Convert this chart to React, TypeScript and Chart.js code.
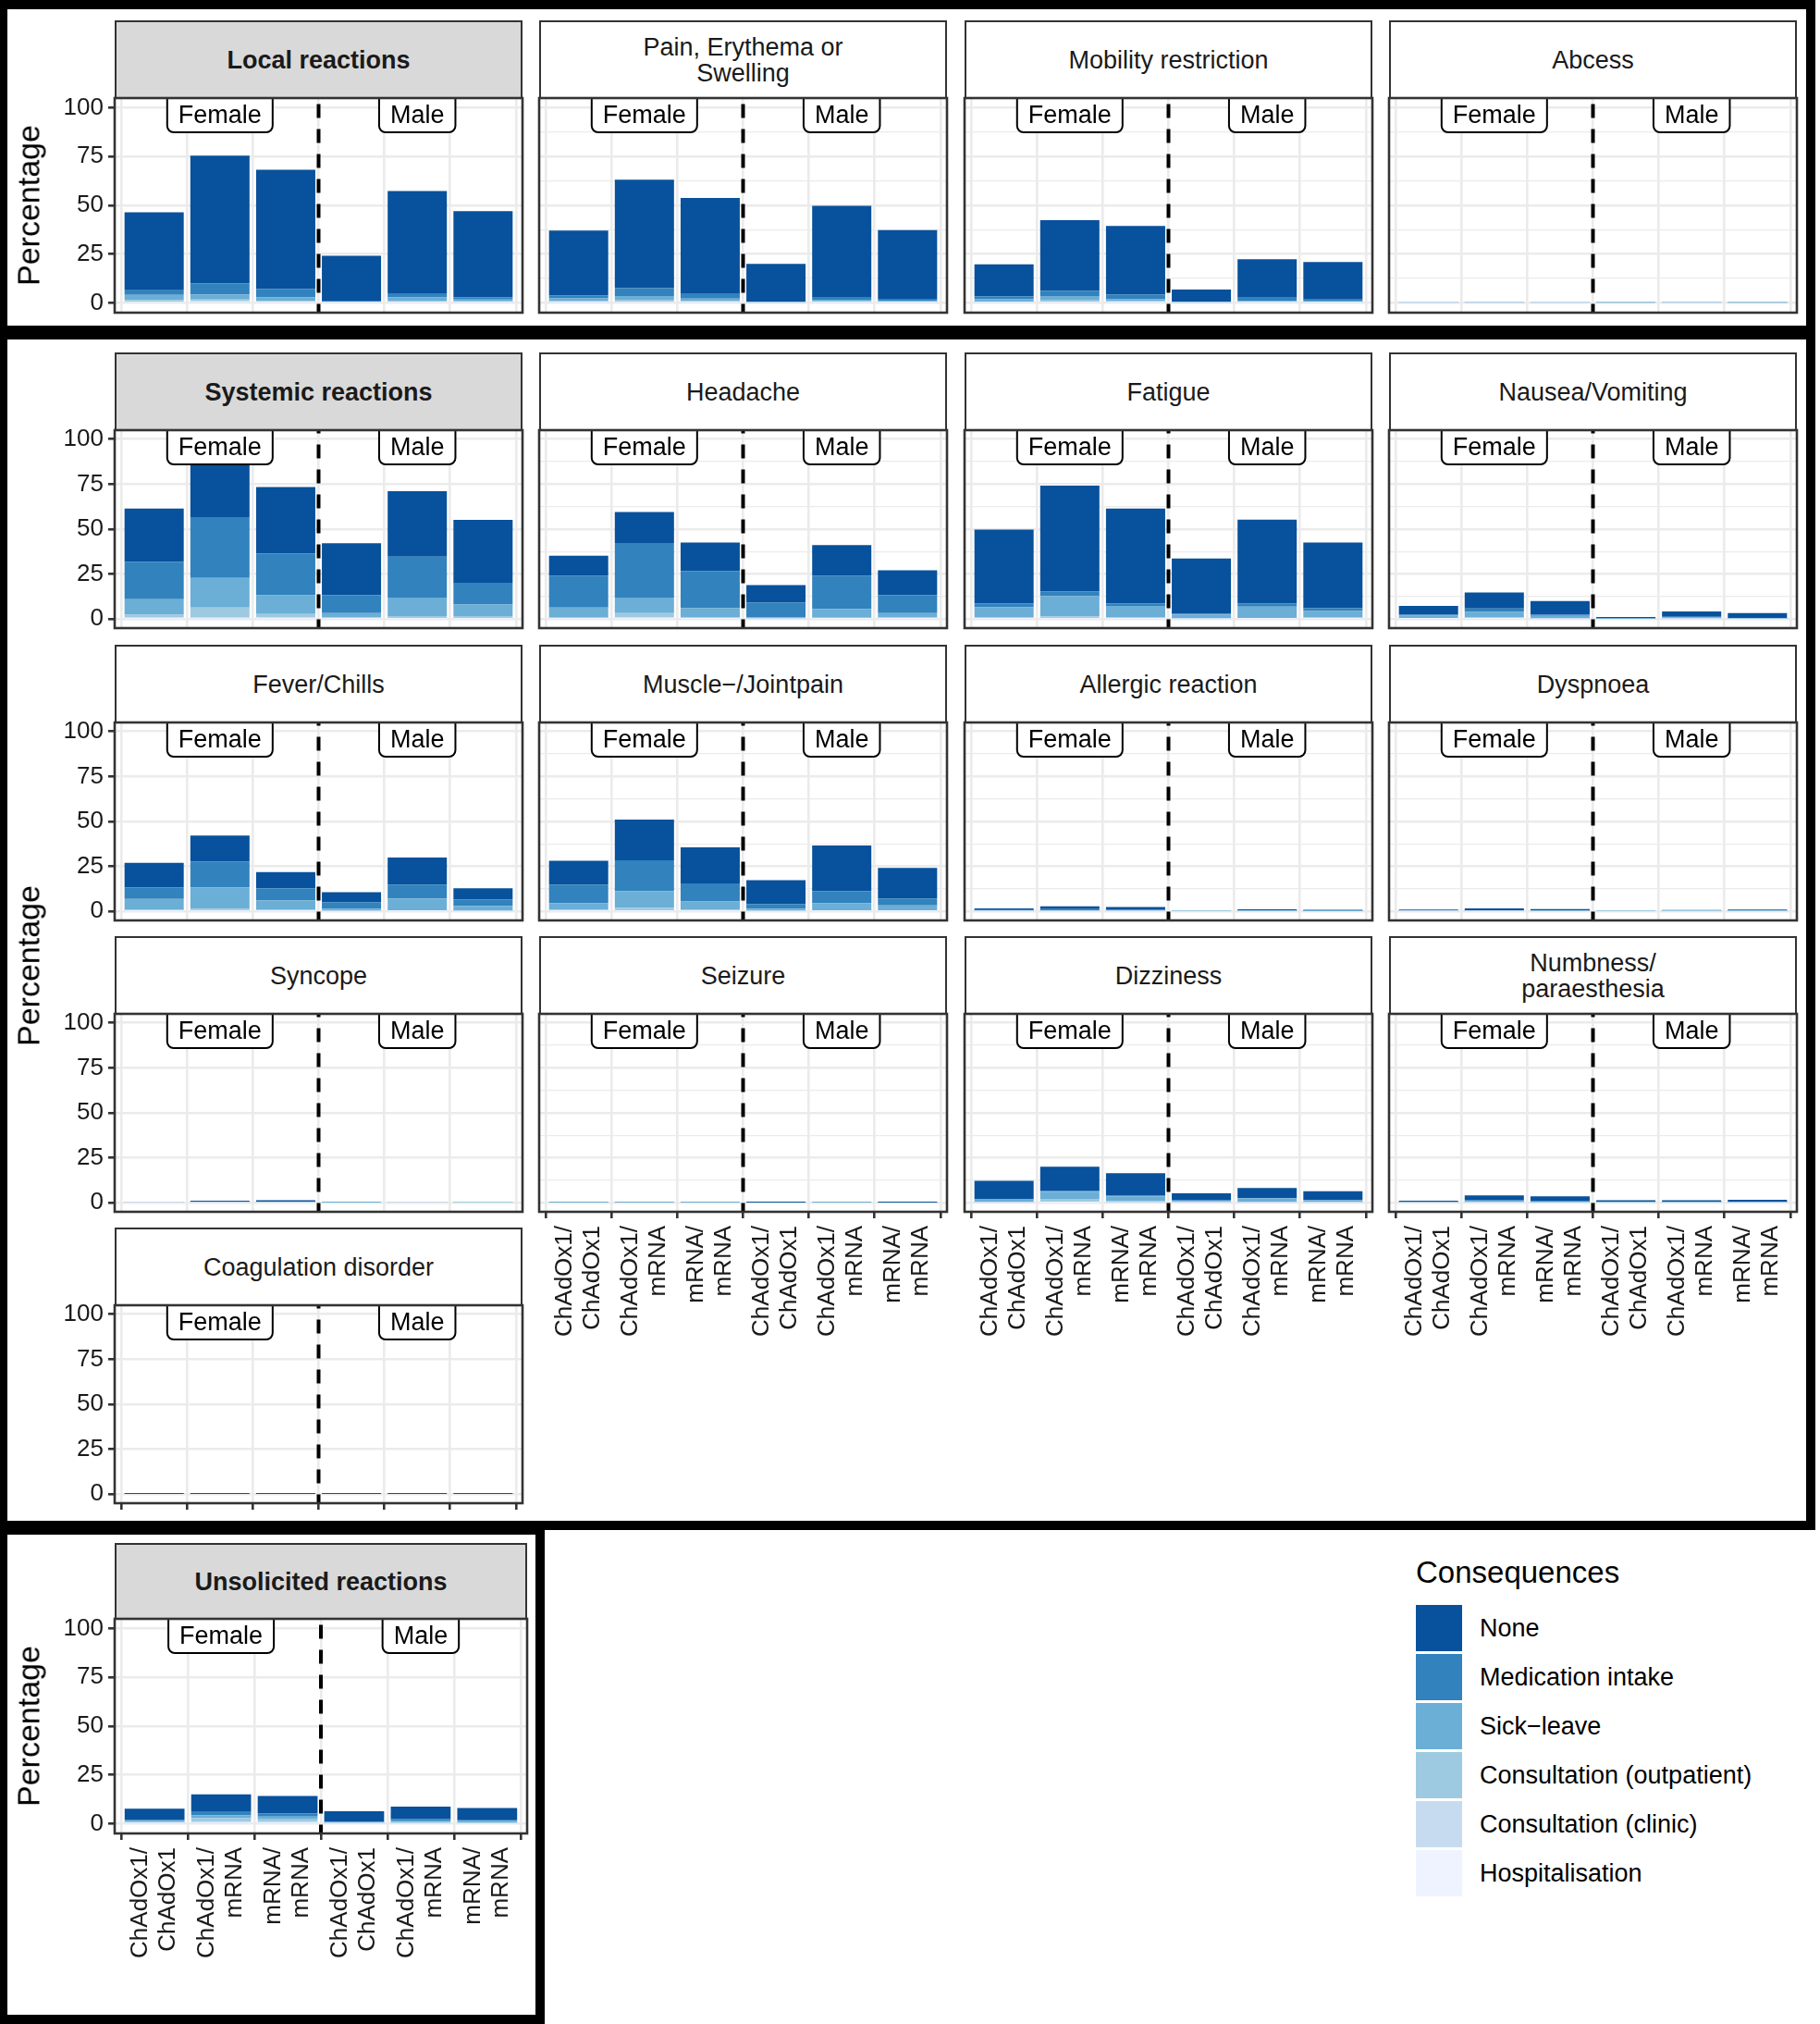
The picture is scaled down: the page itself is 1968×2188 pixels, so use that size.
import React, { useEffect, useRef } from "react";
import { Chart, registerables } from "chart.js";

Chart.register(...registerables);

const FONT = '"Liberation Sans", Arial, Helvetica, sans-serif';

// ---------------- DATA ----------------
const consequenceNames = [
  "Hospitalisation",
  "Consultation (clinic)",
  "Consultation (outpatient)",
  "Sick\u2212leave",
  "Medication intake",
  "None",
];
const consequenceColors = ["#EFF3FF", "#C6DBEF", "#9ECAE1", "#6BAED6", "#3182BD", "#08519C"];

const panelTitles = [
  "Local reactions",
  "Pain, Erythema or\nSwelling",
  "Mobility restriction",
  "Abcess",
  "Systemic reactions",
  "Headache",
  "Fatigue",
  "Nausea/Vomiting",
  "Fever/Chills",
  "Muscle\u2212/Jointpain",
  "Allergic reaction",
  "Dyspnoea",
  "Syncope",
  "Seizure",
  "Dizziness",
  "Numbness/\nparaesthesia",
  "Coagulation disorder",
  "Unsolicited reactions",
];

const groupLabels = ["Female", "Male"];
const groupLabelPositions = [1, 4];
const separatorPosition = 2.5;
const labelValue = 105;

const xPositions = [0, 1, 2, 3, 4, 5];
const xTickLabels = [
  ["ChAdOx1/", "ChAdOx1"],
  ["ChAdOx1/", "mRNA"],
  ["mRNA/", "mRNA"],
  ["ChAdOx1/", "ChAdOx1"],
  ["ChAdOx1/", "mRNA"],
  ["mRNA/", "mRNA"],
];
const yTickValues = [0, 25, 50, 75, 100];
const yMinorBreaks = [12.5, 37.5, 62.5, 87.5];

// one row per panel (same order as panelTitles), six bars per row
const hospValues = [
  [0.2, 0.3, 0.2, 0.1, 0.2, 0.1],
  [0.1, 0.2, 0.1, 0, 0.1, 0.1],
  [0.1, 0.2, 0.1, 0, 0.1, 0.1],
  [0, 0, 0, 0, 0, 0],
  [0.2, 0.3, 0.2, 0.1, 0.1, 0.1],
  [0.1, 0.2, 0.1, 0, 0.1, 0.1],
  [0.1, 0.2, 0.1, 0, 0.1, 0.1],
  [0.1, 0.1, 0, 0, 0, 0],
  [0.1, 0.1, 0.1, 0, 0.1, 0],
  [0.1, 0.1, 0.1, 0, 0.1, 0.1],
  [0, 0, 0, 0, 0, 0],
  [0, 0, 0, 0, 0, 0],
  [0, 0, 0, 0, 0, 0],
  [0, 0, 0, 0, 0, 0],
  [0, 0.1, 0, 0, 0, 0],
  [0, 0, 0, 0, 0, 0],
  [0, 0, 0, 0, 0, 0],
  [0.1, 0.2, 0.2, 0, 0, 0],
];

const clinicValues = [
  [0.5, 0.6, 0.4, 0.1, 0.4, 0.3],
  [0.3, 0.5, 0.4, 0.1, 0.3, 0.2],
  [0.2, 0.4, 0.3, 0.1, 0.2, 0.1],
  [0.1, 0.1, 0.1, 0, 0.1, 0],
  [0.7, 0.9, 0.7, 0.3, 0.5, 0.4],
  [0.4, 0.8, 0.3, 0.2, 0.3, 0.3],
  [0.3, 0.5, 0.3, 0.1, 0.2, 0.3],
  [0.2, 0.3, 0.2, 0, 0.1, 0],
  [0.3, 0.4, 0.2, 0.2, 0.2, 0.2],
  [0.3, 0.6, 0.3, 0.2, 0.2, 0.2],
  [0.1, 0.1, 0.1, 0, 0, 0],
  [0.1, 0.1, 0, 0, 0, 0],
  [0.1, 0.1, 0.1, 0, 0.1, 0],
  [0, 0, 0, 0, 0, 0],
  [0.2, 0.5, 0.3, 0.1, 0.2, 0.1],
  [0, 0.1, 0, 0, 0, 0],
  [0, 0, 0, 0, 0, 0],
  [0.3, 0.8, 0.7, 0.2, 0.3, 0.3],
];

const outpatientValues = [
  [0.8, 0.8, 0.4, 0.2, 0.6, 0.4],
  [0.5, 0.9, 0.6, 0.1, 0.4, 0.3],
  [0.3, 0.7, 0.5, 0.1, 0.3, 0.2],
  [0.1, 0.1, 0.1, 0.1, 0.1, 0.1],
  [1.5, 5.2, 2.0, 0.5, 1.1, 1.2],
  [0.7, 2.3, 0.6, 0.3, 0.4, 0.6],
  [0.6, 0.8, 0.5, 0.3, 0.4, 0.5],
  [0.3, 0.7, 0.4, 0, 0.2, 0.1],
  [0.5, 1.0, 0.6, 0.3, 0.4, 0.4],
  [0.6, 1.4, 0.5, 0.3, 0.4, 0.4],
  [0.1, 0.2, 0.1, 0.1, 0.1, 0],
  [0.1, 0.1, 0.1, 0.1, 0.1, 0.1],
  [0.1, 0.2, 0.2, 0, 0.1, 0.1],
  [0, 0, 0, 0, 0, 0],
  [0.4, 1.6, 0.8, 0.3, 0.5, 0.3],
  [0.1, 0.3, 0.2, 0.1, 0.1, 0.1],
  [0, 0, 0, 0, 0, 0],
  [0.4, 1.8, 1.3, 0.3, 0.5, 0.4],
];

const sickLeaveValues = [
  [2.6, 2.7, 1.8, 0.2, 1.6, 0.9],
  [1.4, 1.9, 1.1, 0.1, 0.8, 0.5],
  [1.3, 2.2, 1.0, 0.2, 0.5, 0.4],
  [0.1, 0.1, 0.1, 0.1, 0.1, 0.1],
  [8.6, 16.5, 10.3, 2.4, 10.3, 6.4],
  [5.2, 8.6, 5.2, 0.5, 4.9, 2.4],
  [5.7, 11.4, 6.5, 2.0, 6.2, 3.6],
  [1.4, 2.9, 1.2, 0.1, 0.6, 0.2],
  [6.0, 11.9, 5.3, 1.0, 6.5, 2.5],
  [3.6, 9.2, 4.6, 1.0, 3.9, 2.6],
  [0.2, 0.4, 0.2, 0.1, 0.1, 0.1],
  [0.3, 0.2, 0.2, 0.1, 0.1, 0.1],
  [0.1, 0.2, 0.2, 0.1, 0.1, 0.1],
  [0.1, 0.1, 0.1, 0, 0.1, 0],
  [1.2, 4.0, 2.5, 0.7, 1.7, 1.0],
  [0.2, 0.8, 0.5, 0.2, 0.1, 0.2],
  [0, 0, 0, 0, 0, 0],
  [0.6, 1.6, 1.5, 0.3, 0.8, 0.7],
];

const medicationValues = [
  [2.4, 5.6, 4.3, 0.2, 2.1, 1.3],
  [1.5, 4.1, 2.7, 0.1, 1.1, 1.0],
  [1.4, 2.7, 2.5, 0.2, 1.6, 0.9],
  [0.1, 0.1, 0.1, 0.1, 0.1, 0.1],
  [20.8, 33.8, 23.2, 9.9, 22.7, 11.7],
  [17.7, 30.4, 20.4, 8.1, 18.4, 10.0],
  [1.9, 2.4, 1.4, 0.7, 1.7, 1.5],
  [0.4, 1.9, 0.6, 0.1, 0.4, 0.2],
  [6.3, 14.4, 6.7, 3.7, 7.7, 3.6],
  [10.3, 17.1, 10.0, 2.6, 6.7, 3.9],
  [0.4, 0.6, 0.5, 0.1, 0.2, 0.2],
  [0.2, 0.3, 0.2, 0, 0.1, 0.1],
  [0.1, 0.2, 0.2, 0, 0.1, 0],
  [0, 0, 0, 0, 0, 0],
  [0.3, 0.5, 0.5, 0.3, 0.3, 0.3],
  [0.1, 0.3, 0.3, 0.1, 0.1, 0.1],
  [0, 0, 0, 0, 0, 0],
  [0.6, 2.0, 1.5, 0.3, 0.8, 0.7],
];

const noneValues = [
  [39.9, 65.5, 61.1, 23.4, 52.5, 44.0],
  [33.3, 55.6, 48.9, 19.6, 47.1, 35.2],
  [16.5, 36.2, 35.0, 6.2, 19.7, 19.3],
  [0.1, 0.2, 0.1, 0.1, 0.3, 0.1],
  [29.7, 30.8, 37.0, 28.9, 36.4, 35.4],
  [11.1, 17.2, 16.0, 9.8, 17.0, 13.7],
  [41.1, 58.9, 52.7, 30.6, 46.7, 36.6],
  [5.0, 8.9, 7.6, 1.0, 3.0, 2.9],
  [13.8, 14.3, 8.9, 5.5, 15.0, 6.2],
  [13.3, 22.6, 20.1, 13.3, 25.3, 17.0],
  [0.9, 1.6, 1.5, 0.2, 0.8, 0.6],
  [0.3, 1.0, 0.8, 0.1, 0.5, 0.7],
  [0.2, 0.5, 0.7, 0.1, 0.3, 0.1],
  [0.1, 0.1, 0.1, 0.1, 0.1, 0.1],
  [10.1, 13.4, 12.4, 3.9, 5.5, 4.8],
  [0.8, 2.6, 2.6, 1.0, 1.1, 1.3],
  [0.1, 0.1, 0.1, 0.1, 0.1, 0.1],
  [5.7, 8.6, 9.0, 5.3, 6.4, 5.9],
];

const seriesValues = [hospValues, clinicValues, outpatientValues, sickLeaveValues, medicationValues, noneValues];

// ---------------- LAYOUT ----------------
const GRID = "#EBEBEB";
const AXIS = "#333333";
const TEXT = "#1A1A1A";
const COL_X = [124, 583, 1043, 1502];
const PANEL_W = 441;
const ROW_TOPS = [381, 697, 1012, 1327];

type XMode = "none" | "ticks" | "labels";
interface PanelSpec {
  idx: number;
  left: number;
  stripTop: number;
  stripH: number;
  panelH: number;
  width: number;
  showY: boolean;
  xMode: XMode;
  gray: boolean;
}

const specs: PanelSpec[] = [];
for (let c = 0; c < 4; c++) {
  specs.push({ idx: c, left: COL_X[c], stripTop: 22, stripH: 84, panelH: 232, width: PANEL_W, showY: c === 0, xMode: "none", gray: c === 0 });
}
for (let r = 0; r < 3; r++) {
  for (let c = 0; c < 4; c++) {
    const idx = 4 + r * 4 + c;
    specs.push({
      idx,
      left: COL_X[c],
      stripTop: ROW_TOPS[r],
      stripH: 84,
      panelH: 214,
      width: PANEL_W,
      showY: c === 0,
      xMode: r === 2 && c > 0 ? "labels" : "none",
      gray: idx === 4,
    });
  }
}
specs.push({ idx: 16, left: COL_X[0], stripTop: ROW_TOPS[3], stripH: 84, panelH: 214, width: PANEL_W, showY: true, xMode: "ticks", gray: false });
specs.push({ idx: 17, left: 124, stripTop: 1668, stripH: 82, panelH: 232, width: 446, showY: true, xMode: "labels", gray: true });

function roundedRect(ctx: CanvasRenderingContext2D, x: number, y: number, w: number, h: number, r: number) {
  ctx.beginPath();
  ctx.moveTo(x + r, y);
  ctx.lineTo(x + w - r, y);
  ctx.arcTo(x + w, y, x + w, y + r, r);
  ctx.lineTo(x + w, y + h - r);
  ctx.arcTo(x + w, y + h, x + w - r, y + h, r);
  ctx.lineTo(x + r, y + h);
  ctx.arcTo(x, y + h, x, y + h - r, r);
  ctx.lineTo(x, y + r);
  ctx.arcTo(x, y, x + r, y, r);
  ctx.closePath();
}

const decorPlugin = {
  id: "panelDecor",
  afterDatasetsDraw(chart: any) {
    const { ctx, chartArea: a, scales } = chart;
    const xs = scales.x;
    const ys = scales.y;
    ctx.save();
    ctx.beginPath();
    ctx.rect(a.left, a.top, a.right - a.left, a.bottom - a.top);
    ctx.clip();
    const dx = xs.getPixelForValue(separatorPosition);
    ctx.strokeStyle = "#000";
    ctx.lineWidth = 4;
    ctx.setLineDash([15, 12]);
    ctx.lineDashOffset = 5.6;
    ctx.beginPath();
    ctx.moveTo(dx, a.bottom);
    ctx.lineTo(dx, a.top);
    ctx.stroke();
    ctx.setLineDash([]);
    ctx.font = `27px ${FONT}`;
    ctx.textAlign = "center";
    ctx.textBaseline = "middle";
    const top = ys.getPixelForValue(labelValue);
    groupLabels.forEach((t, i) => {
      const cx = xs.getPixelForValue(groupLabelPositions[i]);
      const w = ctx.measureText(t).width + 24;
      const h = 37;
      roundedRect(ctx, cx - w / 2, top - 12, w, h + 12, 7);
      ctx.fillStyle = "#fff";
      ctx.fill();
      ctx.lineWidth = 2;
      ctx.strokeStyle = "#000";
      ctx.stroke();
      ctx.fillStyle = "#000";
      ctx.fillText(t, cx, top + h / 2 + 1);
    });
    ctx.restore();
  },
  afterDraw(chart: any) {
    const { ctx, chartArea: a } = chart;
    ctx.save();
    ctx.strokeStyle = AXIS;
    ctx.lineWidth = 2.6;
    ctx.strokeRect(a.left, a.top, a.right - a.left, a.bottom - a.top);
    ctx.restore();
  },
};

function PanelChart({ spec }: { spec: PanelSpec }) {
  const ref = useRef<HTMLCanvasElement | null>(null);
  const M = 4;
  const yW = spec.showY ? 74 : 0;
  const xH = spec.xMode === "labels" ? 160 : spec.xMode === "ticks" ? 8 : 0;
  const panelTop = spec.stripTop + spec.stripH;
  const cw = M + yW + spec.width + M;
  const ch = M + spec.panelH + xH + M;
  const cl = spec.left - yW - M;
  const ct = panelTop - M;

  useEffect(() => {
    const p = spec.idx;
    const isMajor = (v: number) => yTickValues.includes(v);
    const chart = new Chart(ref.current as HTMLCanvasElement, {
      type: "bar",
      data: {
        datasets: seriesValues.map((vals, si) => ({
          label: consequenceNames[si],
          data: vals[p].map((v, i) => ({ x: xPositions[i], y: v })),
          backgroundColor: consequenceColors[si],
          borderWidth: 0,
          barPercentage: 0.9,
          categoryPercentage: 1,
        })),
      },
      options: {
        animation: false,
        responsive: false,
        maintainAspectRatio: false,
        devicePixelRatio: 1,
        events: [],
        layout: { padding: M, autoPadding: false },
        plugins: { legend: { display: false }, tooltip: { enabled: false } },
        scales: {
          x: {
            type: "linear",
            min: -0.6,
            max: 5.6,
            stacked: true,
            offset: false,
            afterBuildTicks: (s: any) => {
              s.ticks = xPositions.map((v) => ({ value: v }));
            },
            afterFit: (s: any) => {
              s.height = xH;
              s.paddingLeft = 0;
              s.paddingRight = 0;
              s.paddingTop = 0;
              s.paddingBottom = 0;
            },
            grid: {
              color: GRID,
              lineWidth: 2.6,
              drawTicks: spec.xMode !== "none",
              tickLength: 7,
              tickColor: AXIS,
              tickWidth: 2.6,
            },
            border: { display: false },
            ticks: {
              display: spec.xMode === "labels",
              autoSkip: false,
              maxRotation: 90,
              minRotation: 90,
              padding: 8,
              labelOffset: -15,
              color: TEXT,
              font: { family: FONT, size: 26, lineHeight: 1.15 },
              callback: (_v: any, i: number) => xTickLabels[i],
            },
          },
          y: {
            type: "linear",
            min: -5,
            max: 105,
            stacked: true,
            afterBuildTicks: (s: any) => {
              s.ticks = [...yTickValues, ...yMinorBreaks].sort((a, b) => a - b).map((v) => ({ value: v }));
            },
            afterFit: (s: any) => {
              s.width = yW;
              s.paddingTop = 0;
              s.paddingBottom = 0;
              s.paddingLeft = 0;
              s.paddingRight = 0;
            },
            grid: {
              color: GRID,
              lineWidth: (c: any) => (c.tick && !isMajor(c.tick.value) ? 1.3 : 2.6),
              drawTicks: spec.showY,
              tickLength: 7,
              tickColor: (c: any) => (c.tick && isMajor(c.tick.value) ? AXIS : "rgba(0,0,0,0)"),
              tickWidth: 2.6,
            },
            border: { display: false },
            ticks: {
              display: spec.showY,
              padding: 5,
              color: TEXT,
              font: { family: FONT, size: 26 },
              callback: (v: any) => (isMajor(v) ? String(v) : ""),
            },
          },
        },
      },
      plugins: [decorPlugin],
    } as any);
    return () => chart.destroy();
  }, []);

  return (
    <canvas
      ref={ref}
      width={cw}
      height={ch}
      style={{ position: "absolute", left: cl, top: ct, width: cw, height: ch }}
    />
  );
}

function Strip({ spec }: { spec: PanelSpec }) {
  return (
    <div
      style={{
        position: "absolute",
        left: spec.left,
        top: spec.stripTop,
        width: spec.width,
        height: spec.stripH + 1,
        boxSizing: "border-box",
        border: `2.5px solid ${AXIS}`,
        background: spec.gray ? "#D9D9D9" : "#FFFFFF",
        display: "flex",
        alignItems: "center",
        justifyContent: "center",
        textAlign: "center",
        fontSize: 27,
        lineHeight: "28px",
        fontWeight: spec.gray ? "bold" : "normal",
        color: TEXT,
        whiteSpace: "pre-line",
      }}
    >
      {panelTitles[spec.idx]}
    </div>
  );
}

const boxes = [
  { left: -2, top: 0, width: 1965, height: 362 },
  { left: -2, top: 357, width: 1965, height: 1297 },
  { left: -2, top: 1649, width: 591, height: 539 },
];

const yTitles = [
  { x: 31, y: 222 },
  { x: 31, y: 1044 },
  { x: 31, y: 1866 },
];

const legendOrder = [5, 4, 3, 2, 1, 0];

export default function App() {
  useEffect(() => {
    document.body.style.margin = "0";
  }, []);
  return (
    <div
      style={{
        position: "absolute",
        left: 0,
        top: 0,
        width: 1968,
        height: 2188,
        background: "#fff",
        fontFamily: FONT,
        overflow: "hidden",
      }}
    >
      {boxes.map((b, i) => (
        <div
          key={"box" + i}
          style={{
            position: "absolute",
            left: b.left,
            top: b.top,
            width: b.width,
            height: b.height,
            boxSizing: "border-box",
            border: "10px solid #000",
          }}
        />
      ))}
      {specs.map((s) => (
        <Strip key={"strip" + s.idx} spec={s} />
      ))}
      {specs.map((s) => (
        <PanelChart key={"chart" + s.idx} spec={s} />
      ))}
      {yTitles.map((t, i) => (
        <div
          key={"yt" + i}
          style={{
            position: "absolute",
            left: t.x,
            top: t.y,
            transform: "translate(-50%, -50%) rotate(-90deg)",
            fontSize: 34,
            whiteSpace: "nowrap",
            color: "#000",
          }}
        >
          Percentage
        </div>
      ))}
      <div
        style={{
          position: "absolute",
          left: 1531,
          top: 1700,
          transform: "translateY(-50%)",
          fontSize: 33,
          color: "#000",
          whiteSpace: "nowrap",
        }}
      >
        Consequences
      </div>
      {legendOrder.map((si, i) => {
        const top = 1735 + i * 53;
        return (
          <React.Fragment key={"lg" + si}>
            <div
              style={{
                position: "absolute",
                left: 1531,
                top,
                width: 50,
                height: 50,
                background: consequenceColors[si],
              }}
            />
            <div
              style={{
                position: "absolute",
                left: 1600,
                top: top + 25,
                transform: "translateY(-50%)",
                fontSize: 27,
                color: "#000",
                whiteSpace: "nowrap",
              }}
            >
              {consequenceNames[si]}
            </div>
          </React.Fragment>
        );
      })}
    </div>
  );
}
